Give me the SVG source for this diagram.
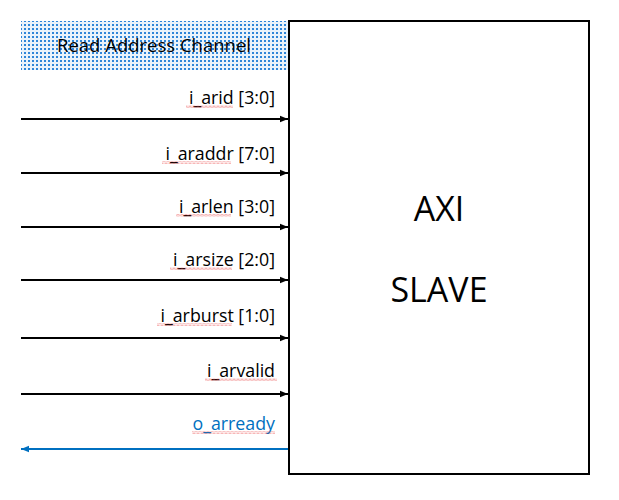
<svg xmlns="http://www.w3.org/2000/svg" width="619" height="500" viewBox="0 0 619 500">
<style>
.lbl{font-family:"Open Sans","Noto Sans","Liberation Sans",sans-serif;font-size:17.8px;text-anchor:end;fill:#000}
.blue{fill:#0070c0}
.big{font-family:"Open Sans","Noto Sans","Liberation Sans",sans-serif;font-size:34px;text-anchor:middle;fill:#000}
.sig{stroke:#000;stroke-width:2;fill:none}
.wv{fill:url(#wave)}
</style>
<defs>
<pattern id="dots" width="4" height="4" patternUnits="userSpaceOnUse">
<rect width="4" height="4" fill="#eaf3fb"/>
<rect x="0" y="0" width="2" height="2" fill="#2f86d8"/>
</pattern>
<pattern id="wave" width="4" height="3" patternUnits="userSpaceOnUse" patternTransform="translate(0,0.5)">
<path d="M0,2.5 L2,0.5 L4,2.5" fill="none" stroke="#e84040" stroke-width="0.8"/>
</pattern>
<marker id="ah" viewBox="0 0 10 10" refX="10" refY="5" markerWidth="4" markerHeight="4" orient="auto" markerUnits="strokeWidth">
<path d="M0,1 L10,5 L0,9 z" fill="#000"/>
</marker>
<marker id="ahb" viewBox="0 0 10 10" refX="10" refY="5" markerWidth="4" markerHeight="4" orient="auto" markerUnits="strokeWidth">
<path d="M0,1 L10,5 L0,9 z" fill="#0070c0"/>
</marker>
</defs>
<g id="channel-header">
<rect x="21" y="21" width="267" height="49" fill="url(#dots)"/>
<text x="154" y="52" style="font-family:'Open Sans','Noto Sans','Liberation Sans',sans-serif;font-size:18.5px;text-anchor:middle">Read Address Channel</text>
</g>
<g id="axi-slave">
<rect x="289" y="21" width="300" height="453" fill="#fff" stroke="#000" stroke-width="2"/>
<text class="big" x="439" y="221">AXI</text>
<text class="big" x="439" y="302">SLAVE</text>
</g>
<g id="connectors">
<line class="sig" x1="21" y1="119" x2="288" y2="119" marker-end="url(#ah)"/>
<line class="sig" x1="21" y1="173" x2="288" y2="173" marker-end="url(#ah)"/>
<line class="sig" x1="21" y1="227" x2="288" y2="227" marker-end="url(#ah)"/>
<line class="sig" x1="21" y1="280" x2="288" y2="280" marker-end="url(#ah)"/>
<line class="sig" x1="21" y1="338" x2="288" y2="338" marker-end="url(#ah)"/>
<line class="sig" x1="21" y1="394" x2="288" y2="394" marker-end="url(#ah)"/>
<line x1="288" y1="449" x2="21" y2="449" stroke="#0070c0" stroke-width="2" marker-end="url(#ahb)"/>
</g>
<g id="labels">
<text class="lbl" x="275" y="104">i_arid [3:0]</text>
<text class="lbl" x="275" y="160">i_araddr [7:0]</text>
<text class="lbl" x="275" y="213">i_arlen [3:0]</text>
<text class="lbl" x="275" y="266">i_arsize [2:0]</text>
<text class="lbl" x="275" y="322">i_arburst [1:0]</text>
<text class="lbl" x="275" y="377">i_arvalid</text>
<text class="lbl blue" x="275" y="430">o_arready</text>
</g>
<g id="spellcheck-marks">
<rect class="wv" x="186" y="105" width="47" height="3"/>
<rect class="wv" x="162" y="161" width="69" height="3"/>
<rect class="wv" x="176" y="214" width="55" height="3"/>
<rect class="wv" x="170" y="267" width="62" height="3"/>
<rect class="wv" x="157" y="323" width="75" height="3"/>
<rect class="wv" x="205" y="378" width="72" height="3"/>
<rect class="wv" x="192" y="431" width="83" height="3"/>
</g>
</svg>
